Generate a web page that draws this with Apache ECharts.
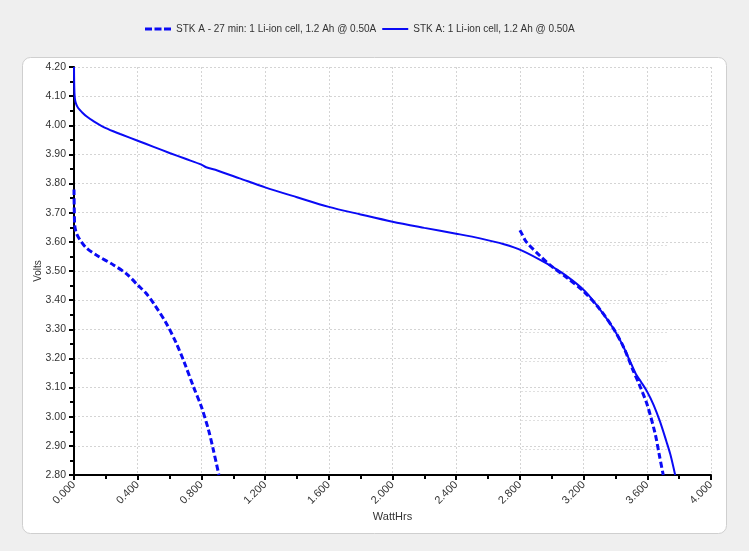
<!DOCTYPE html>
<html>
<head>
<meta charset="utf-8">
<script src="https://cdn.jsdelivr.net/npm/echarts@6/dist/echarts.min.js"></script>
<style>html,body{margin:0;padding:0;background:#efefef;}#c{width:749px;height:551px;}</style>
</head>
<body>
<div id="c"></div>
<script>
const nameDashed = 'STK A - 27 min: 1 Li-ion cell, 1.2 Ah @ 0.50A';
const nameSolid = 'STK A: 1 Li-ion cell, 1.2 Ah @ 0.50A';

const solidX = [0, 0.001, 0.003, 0.006, 0.012, 0.025, 0.05, 0.08, 0.12, 0.2, 0.29, 0.4, 0.5, 0.6, 0.7, 0.8, 0.83, 0.9, 1.04, 1.2, 1.4, 1.6, 1.8, 2.0, 2.2, 2.4, 2.55, 2.7, 2.81, 2.97, 3.1, 3.21, 3.3, 3.39, 3.45, 3.5, 3.53, 3.56, 3.6, 3.64, 3.68, 3.72, 3.745, 3.775];
const solidY = [4.20, 4.15, 4.11, 4.09, 4.075, 4.06, 4.045, 4.03, 4.015, 3.99, 3.97, 3.947, 3.926, 3.905, 3.885, 3.865, 3.856, 3.845, 3.818, 3.787, 3.753, 3.72, 3.694, 3.669, 3.648, 3.628, 3.612, 3.592, 3.571, 3.525, 3.48, 3.43, 3.37, 3.30, 3.24, 3.18, 3.145, 3.12, 3.085, 3.04, 2.983, 2.915, 2.87, 2.80];

const dashedX1 = [0, 0.002, 0.005, 0.015, 0.04, 0.08, 0.14, 0.25, 0.33, 0.4, 0.45, 0.5, 0.58, 0.64, 0.69, 0.75, 0.8, 0.845, 0.875, 0.91];
const dashedY1 = [3.78, 3.70, 3.655, 3.63, 3.605, 3.578, 3.555, 3.52, 3.49, 3.452, 3.425, 3.389, 3.32, 3.255, 3.19, 3.103, 3.034, 2.954, 2.886, 2.80];
const dashedX2 = [2.80, 2.81, 2.84, 2.93, 2.99, 3.1, 3.2, 3.3, 3.39, 3.45, 3.51, 3.55, 3.6, 3.65, 3.675, 3.70];
const dashedY2 = [3.64, 3.63, 3.60, 3.55, 3.52, 3.475, 3.43, 3.37, 3.30, 3.24, 3.16, 3.11, 3.04, 2.94, 2.87, 2.80];

const xMin = 0, xMax = 4, xStep = 0.4;
const yMin = 2.8, yMax = 4.2, yStep = 0.1;

const zip = (xs, ys) => xs.map((x, i) => [x, ys[i]]);
const blue = '#0a0af5';
const font = 'Liberation Sans, Arial, sans-serif';

const chart = echarts.init(document.getElementById('c'), null, {renderer: 'canvas'});
chart.setOption({
  backgroundColor: '#efefef',
  animation: false,
  graphic: [{
    type: 'rect', z: -10, silent: true,
    shape: {x: 22.5, y: 57.5, width: 704, height: 476, r: 8},
    style: {fill: '#ffffff', stroke: '#cfcfcf', lineWidth: 1}
  }],
  legend: {
    top: 19, left: 140,
    itemWidth: 26, itemHeight: 3, itemGap: 6,
    textStyle: {fontFamily: font, fontSize: 10, color: '#333'},
    data: [
      {name: nameDashed, icon: 'path://M0,0h7v3h-7z M9.5,0h7v3h-7z M19,0h7v3h-7z'},
      {name: nameSolid, icon: 'path://M0,0h26v2h-26z'}
    ]
  },
  grid: [
    {left: 74, right: 38, top: 67, bottom: 76},
    {left: 521, width: 148, top: 216, height: 233}
  ],
  xAxis: [{
    gridIndex: 0, type: 'value', min: xMin, max: xMax, interval: xStep,
    name: 'WattHrs', nameLocation: 'middle', nameGap: 36, nameMoveOverlap: false,
    nameTextStyle: {fontFamily: font, fontSize: 11, color: '#333'},
    axisLine: {show: true, onZero: false, lineStyle: {color: '#000', width: 2}},
    axisTick: {show: true, length: 5, lineStyle: {color: '#000', width: 2}},
    minorTick: {show: true, splitNumber: 2, length: 4, lineStyle: {color: '#000', width: 2}},
    axisLabel: {rotate: 45, fontFamily: font, fontSize: 11, color: '#333', margin: 8,
      formatter: v => v.toFixed(3)},
    splitLine: {show: true, lineStyle: {color: '#d4d4d4', type: [2, 2], width: 1}}
  }, {
    gridIndex: 1, type: 'value', min: 0, max: 1, show: false,
    splitLine: {show: false}
  }],
  yAxis: [{
    gridIndex: 0, type: 'value', min: yMin, max: yMax, interval: yStep,
    name: 'Volts', nameLocation: 'middle', nameGap: 31, nameMoveOverlap: false,
    nameTextStyle: {fontFamily: font, fontSize: 10, color: '#333'},
    axisLine: {show: true, onZero: false, lineStyle: {color: '#000', width: 2}},
    axisTick: {show: true, length: 5, lineStyle: {color: '#000', width: 2}},
    minorTick: {show: true, splitNumber: 2, length: 4, lineStyle: {color: '#000', width: 2}},
    axisLabel: {fontFamily: font, fontSize: 10.5, color: '#333', margin: 8,
      formatter: v => v.toFixed(2)},
    splitLine: {show: true, lineStyle: {color: '#d4d4d4', type: [2, 2], width: 1}}
  }, {
    gridIndex: 1, type: 'value', min: 2.9, max: 3.7, interval: 0.1,
    axisLine: {show: false}, axisTick: {show: false}, axisLabel: {show: false},
    splitLine: {show: true, lineStyle: {color: '#e0e0e0', type: [2, 2], width: 1}}
  }],
  series: [
    {name: nameDashed, type: 'line', data: zip(dashedX1, dashedY1), showSymbol: false, symbol: 'none',
      smooth: 0.3, lineStyle: {color: blue, width: 3, type: [6, 3]}, itemStyle: {color: blue}},
    {name: nameDashed, type: 'line', data: zip(dashedX2, dashedY2), showSymbol: false, symbol: 'none',
      smooth: 0.3, lineStyle: {color: blue, width: 3, type: [6, 3]}, itemStyle: {color: blue}},
    {name: nameSolid, type: 'line', data: zip(solidX, solidY), showSymbol: false, symbol: 'none',
      smooth: 0.3, lineStyle: {color: blue, width: 2}, itemStyle: {color: blue}}
  ]
});
</script>
</body>
</html>
